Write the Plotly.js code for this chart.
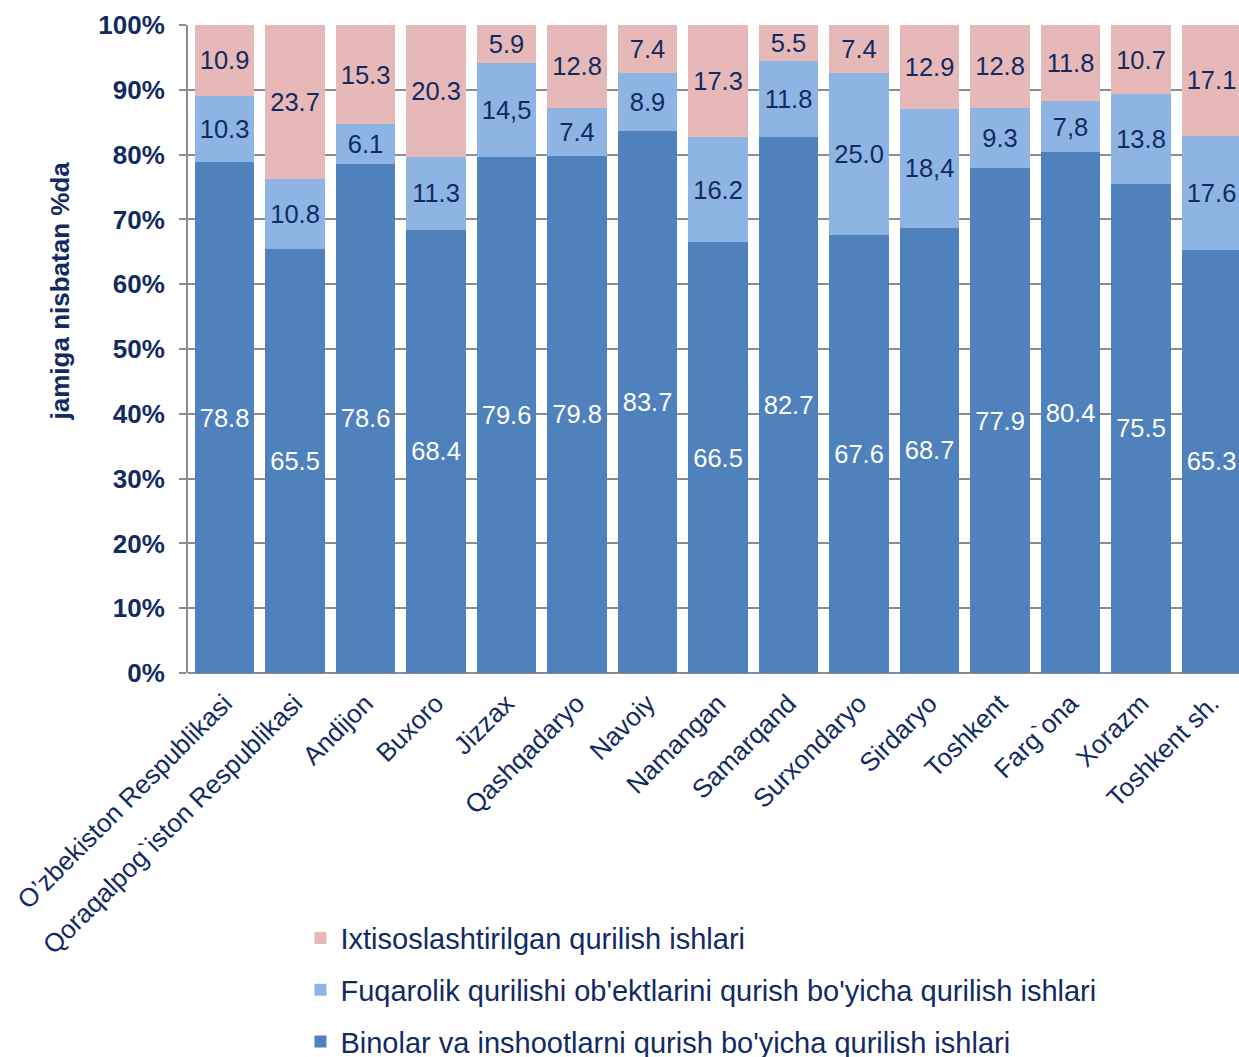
<!DOCTYPE html>
<html>
<head>
<meta charset="utf-8">
<script src="https://cdn.plot.ly/plotly-3.0.1.min.js"></script>
<style>html,body{margin:0;padding:0;background:#fff;}#chart{width:1239px;height:1057px;}</style>
</head>
<body>
<div id="chart"></div>
<script>
const categories = ["O\u2019zbekiston Respublikasi", "Qoraqalpog`iston Respublikasi", "Andijon", "Buxoro", "Jizzax", "Qashqadaryo", "Navoiy", "Namangan", "Samarqand", "Surxondaryo", "Sirdaryo", "Toshkent", "Farg`ona", "Xorazm", "Toshkent sh."];

const binolar = [78.8, 65.5, 78.6, 68.4, 79.6, 79.8, 83.7, 66.5, 82.7, 67.6, 68.7, 77.9, 80.4, 75.5, 65.3];
const binolarLabels = ["78.8", "65.5", "78.6", "68.4", "79.6", "79.8", "83.7", "66.5", "82.7", "67.6", "68.7", "77.9", "80.4", "75.5", "65.3"];

const fuqarolik = [10.3, 10.8, 6.1, 11.3, 14.5, 7.4, 8.9, 16.2, 11.8, 25.0, 18.4, 9.3, 7.8, 13.8, 17.6];
const fuqarolikLabels = ["10.3", "10.8", "6.1", "11.3", "14,5", "7.4", "8.9", "16.2", "11.8", "25.0", "18,4", "9.3", "7,8", "13.8", "17.6"];

const ixtisos = [10.9, 23.7, 15.3, 20.3, 5.9, 12.8, 7.4, 17.3, 5.5, 7.4, 12.9, 12.8, 11.8, 10.7, 17.1];
const ixtisosLabels = ["10.9", "23.7", "15.3", "20.3", "5.9", "12.8", "7.4", "17.3", "5.5", "7.4", "12.9", "12.8", "11.8", "10.7", "17.1"];

const yTickVals = [0, 10, 20, 30, 40, 50, 60, 70, 80, 90, 100];
const yTickText = ["0%", "10%", "20%", "30%", "40%", "50%", "60%", "70%", "80%", "90%", "100%"];

const seriesNames = [
  "Binolar va inshootlarni qurish bo'yicha qurilish ishlari",
  "Fuqarolik qurilishi ob'ektlarini qurish bo'yicha qurilish ishlari",
  "Ixtisoslashtirilgan qurilish ishlari"
];

const NAVY = "#112b62";
const FONT = "Liberation Sans, Arial, sans-serif";
const xIdx = categories.map((c, i) => i);

function mk(vals, labels, name, color, txtColor, grp, rank) {
  return {
    type: "bar",
    x: xIdx,
    y: vals,
    name: name,
    text: labels,
    texttemplate: "%{text}",
    textposition: "inside",
    insidetextanchor: "middle",
    textangle: 0,
    constraintext: "none",
    insidetextfont: {family: FONT, size: 25.5, color: txtColor},
    marker: {color: color, line: {width: 0}},
    legendgroup: grp,
    legendrank: rank,
    hoverinfo: "skip"
  };
}

const data = [
  mk(binolar, binolarLabels, seriesNames[0], "#4f81bd", "#ffffff", "a", 3),
  mk(fuqarolik, fuqarolikLabels, seriesNames[1], "#8eb4e3", NAVY, "b", 2),
  mk(ixtisos, ixtisosLabels, seriesNames[2], "#e6b9b8", NAVY, "c", 1)
];

const layout = {
  width: 1239,
  height: 1057,
  margin: {l: 188, r: 0, t: 25, b: 384, autoexpand: false},
  barmode: "stack",
  bargap: 0.15,
  paper_bgcolor: "#ffffff",
  plot_bgcolor: "#ffffff",
  font: {family: FONT, color: NAVY, size: 24},
  showlegend: true,
  legend: {
    orientation: "v",
    traceorder: "grouped",
    x: 0.107, xanchor: "left",
    y: -0.37, yanchor: "top",
    font: {family: FONT, size: 29, color: NAVY},
    tracegroupgap: 11,
    bgcolor: "rgba(0,0,0,0)"
  },
  xaxis: {
    range: [-0.518, 14.39],
    tickmode: "array",
    tickvals: xIdx,
    ticktext: categories,
    tickangle: -45,
    ticks: "",
    showgrid: false,
    showline: false,
    zeroline: false,
    automargin: false,
    ticklabelstandoff: 9,
    tickfont: {family: FONT, size: 26, color: NAVY},
    fixedrange: true
  },
  yaxis: {
    range: [0, 100],
    tickmode: "array",
    tickvals: yTickVals,
    ticktext: yTickText,
    ticks: "outside",
    ticklen: 7,
    tickwidth: 2,
    tickcolor: "#8c8c8c",
    showgrid: true,
    gridcolor: "#8c8c8c",
    gridwidth: 2,
    showline: true,
    linecolor: "#8c8c8c",
    linewidth: 2,
    zeroline: true,
    zerolinecolor: "#8c8c8c",
    zerolinewidth: 2,
    automargin: false,
    ticklabelstandoff: 9,
    tickfont: {family: FONT, size: 26, color: NAVY, weight: "bold"},
    fixedrange: true
  },
  annotations: [{
    text: "<b>jamiga nisbatan %da</b>",
    xref: "paper", yref: "paper",
    x: -0.122, y: 0.59,
    xanchor: "center", yanchor: "middle",
    textangle: -90,
    showarrow: false,
    font: {family: FONT, size: 26, color: NAVY}
  }]
};

Plotly.newPlot("chart", data, layout, {displayModeBar: false, staticPlot: true});
</script>
</body>
</html>
